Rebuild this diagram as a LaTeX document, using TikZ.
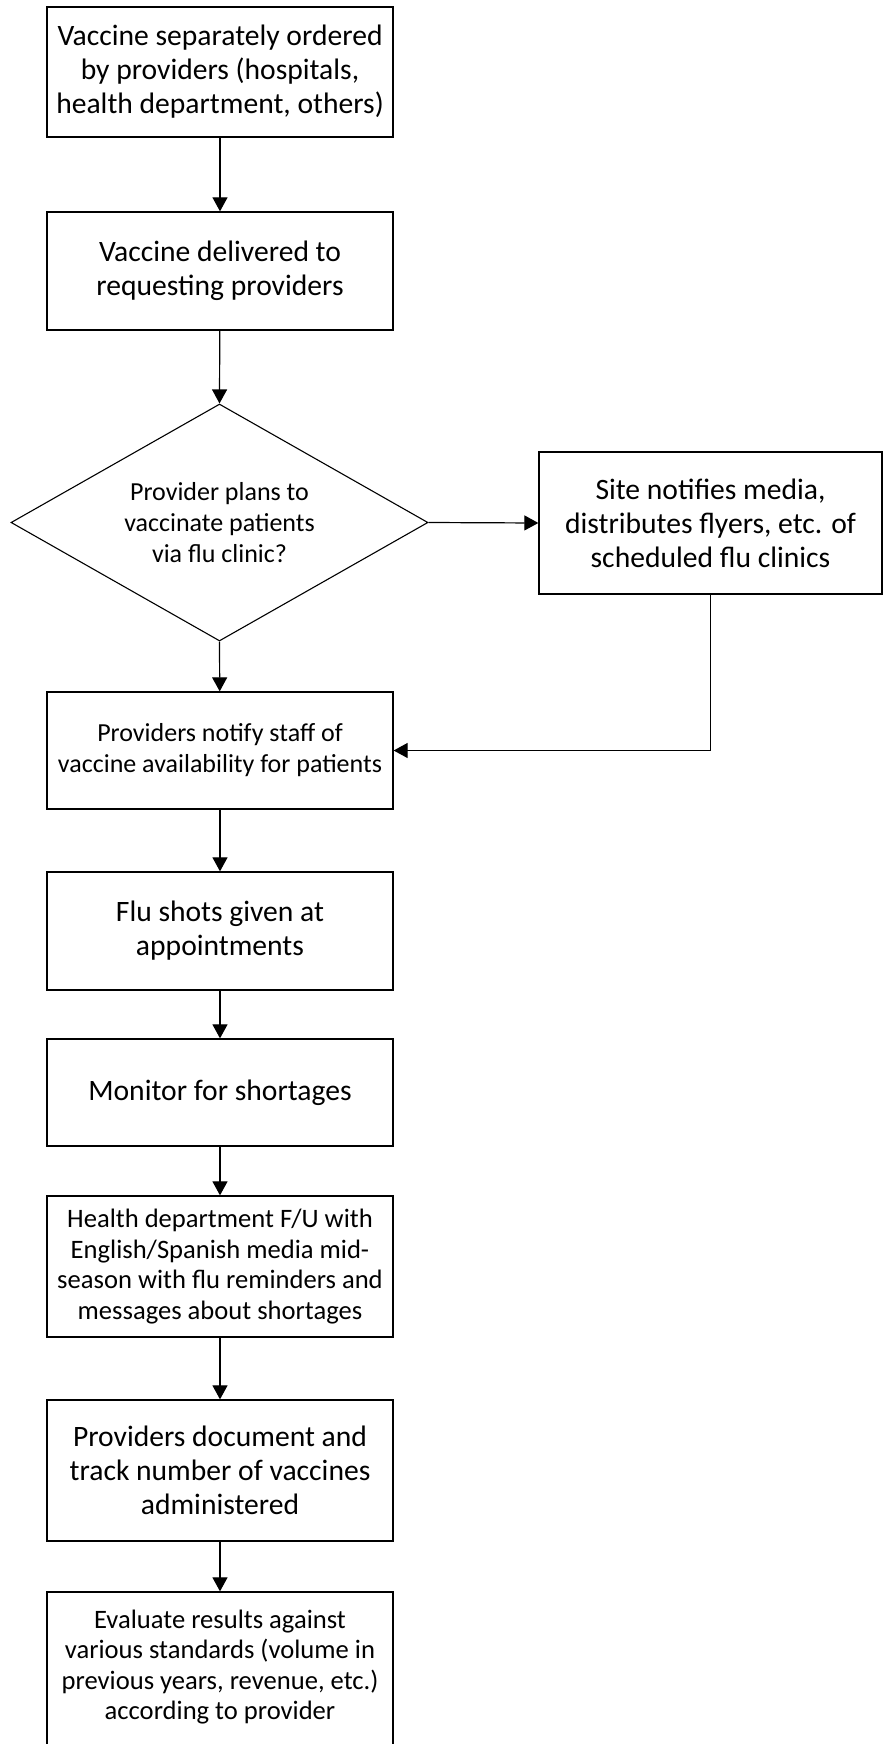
\documentclass[tikz,border=0pt]{standalone}
\usepackage{fontspec}
\setmainfont{Carlito}
\usetikzlibrary{shapes.geometric, arrows.meta, positioning}

\begin{document}
\begin{tikzpicture}[
  x=1pt, y=-1pt,
  procbox/.style={rectangle, draw=black, line width=1.3pt, align=center,
                  minimum width=346pt, inner sep=0pt},
  decision/.style={diamond, aspect=1.76, draw=black, line width=1.1pt, align=center,
                   minimum width=417pt, minimum height=237pt, inner sep=0pt},
  bigtxt/.style={font=\fontsize{29.6pt}{34pt}\selectfont},
  smalltxt/.style={font=\fontsize{26.6pt}{30.5pt}\selectfont},
  tinytxt/.style={font=\fontsize{26pt}{31pt}\selectfont},
  flow/.style={line width=1.2pt, -{Triangle[length=14pt,width=15pt]}},
]
\useasboundingbox (0,0) rectangle (883,1744);
% main column, top to bottom
\node[procbox, bigtxt, minimum height=130pt] (b1) at (220,72)
  {Vaccine separately ordered\\by providers (hospitals,\\health department, others)};
\node[procbox, bigtxt, minimum height=118pt] (b2) at (220,271)
  {Vaccine delivered to\\requesting providers};
\node[decision, tinytxt] (dia) at (219.5,522.5)
  {Provider plans to\\vaccinate patients\\via flu clinic?};
\node[procbox, bigtxt, minimum width=343pt, minimum height=142pt] (site) at (710.5,523)
  {Site notifies media,\\distributes flyers, etc. of\\scheduled flu clinics};
\node[procbox, tinytxt, minimum height=117pt] (b3) at (220,750.5)
  {Providers notify staff of\\vaccine availability for patients};
\node[procbox, bigtxt, minimum height=118pt] (b4) at (220,931)
  {Flu shots given at\\appointments};
\node[procbox, bigtxt, minimum height=107pt] (b5) at (220,1092.5)
  {Monitor for shortages};
\node[procbox, smalltxt, minimum height=141pt] (b6) at (220,1266.5)
  {Health department F/U with\\English/Spanish media mid-\\season with flu reminders and\\messages about shortages};
\node[procbox, bigtxt, minimum height=141pt] (b7) at (220,1470.5)
  {Providers document and\\track number of vaccines\\administered};
% last box runs off the bottom of the page
\node[procbox, smalltxt, minimum height=176pt] (b8) at (220,1680)
  {Evaluate results against\\various standards (volume in\\previous years, revenue, etc.)\\according to provider\\\mbox{}};

% connectors
\foreach \from/\to in {b1/b2, b3/b4, b4/b5, b5/b6, b6/b7, b7/b8}
  \draw[flow] (\from) -- (\to);
\draw[flow] (b2) -- (dia.north);
\draw[flow] (dia.east) -- (site.west);
\draw[flow] (dia.south) -- (b3);
\draw[flow] (site.south) |- (b3.east);
\end{tikzpicture}
\end{document}
